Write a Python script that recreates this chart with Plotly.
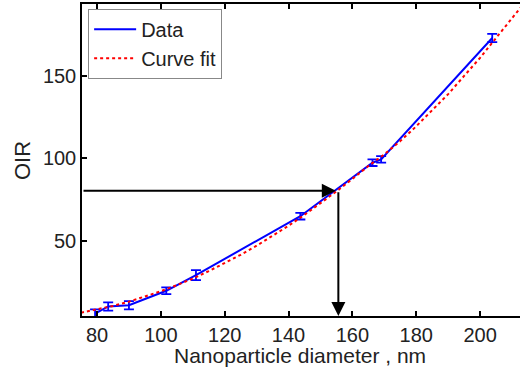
import plotly.graph_objects as go

# Measured data (blue, with error bars)
diameter = [79.4, 83.5, 90.0, 101.7, 111.0, 143.7, 166.3, 169.0, 203.8]
oir = [6.0, 10.3, 11.0, 19.8, 29.3, 65.0, 97.4, 99.4, 173.0]
oir_err = [2.5, 2.5, 2.5, 2.0, 3.0, 2.0, 2.0, 2.0, 2.5]

# Curve fit (red dotted)
fit_x = [75, 80, 85, 90, 95, 100, 105, 110, 115, 120, 125, 130, 135, 140, 145,
         150, 155, 160, 165, 170, 175, 180, 185, 190, 195, 200, 205, 210, 215]
fit_y = [6.5, 8.4, 10.6, 13.2, 16.2, 19.5, 23.2, 27.2, 31.7, 36.4, 41.6, 47.1,
         53.0, 59.2, 65.8, 72.7, 80.0, 87.6, 95.4, 102.5, 110.5, 119.5, 129.0,
         139.0, 150.0, 161.0, 173.0, 185.0, 197.0]

# Arrow read-off
read_oir = 80.4
read_diam = 155.6
x_range = [75.3, 212.5]
y_range = [4.5, 193.6]
x_ticks = [80, 100, 120, 140, 160, 180, 200]
y_ticks = [50, 100, 150]

font_family = "Liberation Sans, Arial, sans-serif"

fig = go.Figure()
fig.add_trace(go.Scatter(
    x=diameter, y=oir, mode="lines", name="Data",
    line=dict(color="#0000FF", width=2),
    error_y=dict(type="data", array=oir_err, visible=True,
                 color="#0000FF", thickness=1.8, width=5),
))
fig.add_trace(go.Scatter(
    x=fit_x, y=fit_y, mode="lines", name="Curve fit",
    line=dict(color="#FF0000", width=2, dash="dot"),
))

# arrows
fig.add_annotation(x=read_diam - 0.8, y=read_oir, ax=x_range[0], ay=read_oir,
                   xref="x", yref="y", axref="x", ayref="y",
                   showarrow=True, arrowhead=2, arrowsize=1.4, arrowwidth=2,
                   arrowcolor="black", text="")
fig.add_annotation(x=read_diam, y=y_range[0], ax=read_diam, ay=read_oir,
                   xref="x", yref="y", axref="x", ayref="y",
                   showarrow=True, arrowhead=2, arrowsize=1.4, arrowwidth=2,
                   arrowcolor="black", text="")

# axis titles as annotations for exact placement
fig.add_annotation(text="Nanoparticle diameter , nm", xref="paper", yref="paper",
                   x=0.497, y=-0.128, xanchor="center", yanchor="middle",
                   borderpad=0, showarrow=False, font=dict(size=21, color="#222"))
fig.add_annotation(text="OIR", xref="paper", yref="paper", textangle=-90,
                   x=-0.137, y=0.5, xanchor="center", yanchor="middle",
                   showarrow=False, font=dict(size=22, color="#222"))

fig.update_layout(
    width=520, height=368,
    margin=dict(l=82, r=0, t=4, b=52, autoexpand=False),
    paper_bgcolor="white", plot_bgcolor="white",
    font=dict(family=font_family, size=20, color="#222"),
    showlegend=True,
    legend=dict(x=0.014, y=0.985, xanchor="left", yanchor="top",
                bgcolor="white", bordercolor="#888", borderwidth=1,
                font=dict(size=20, color="#222"), itemwidth=42,
                tracegroupgap=0),
)
fig.update_xaxes(
    range=x_range, tickvals=x_ticks, ticks="inside", ticklen=5,
    tickcolor="black", tickwidth=1.5, automargin=False,
    showline=True, linecolor="black", linewidth=1.5, mirror="ticks",
    showgrid=False, zeroline=False, ticklabelstandoff=0,
    tickfont=dict(size=20),
)
fig.update_yaxes(
    range=y_range, tickvals=y_ticks, ticks="inside", ticklen=5,
    tickcolor="black", tickwidth=1.5, automargin=False,
    showline=True, linecolor="black", linewidth=1.5, mirror=False,
    showgrid=False, zeroline=False,
    tickfont=dict(size=20),
)

fig.write_html("out.html", config={"displayModeBar": False},
               post_script="document.body.style.margin='0';document.body.style.overflow='hidden';")
